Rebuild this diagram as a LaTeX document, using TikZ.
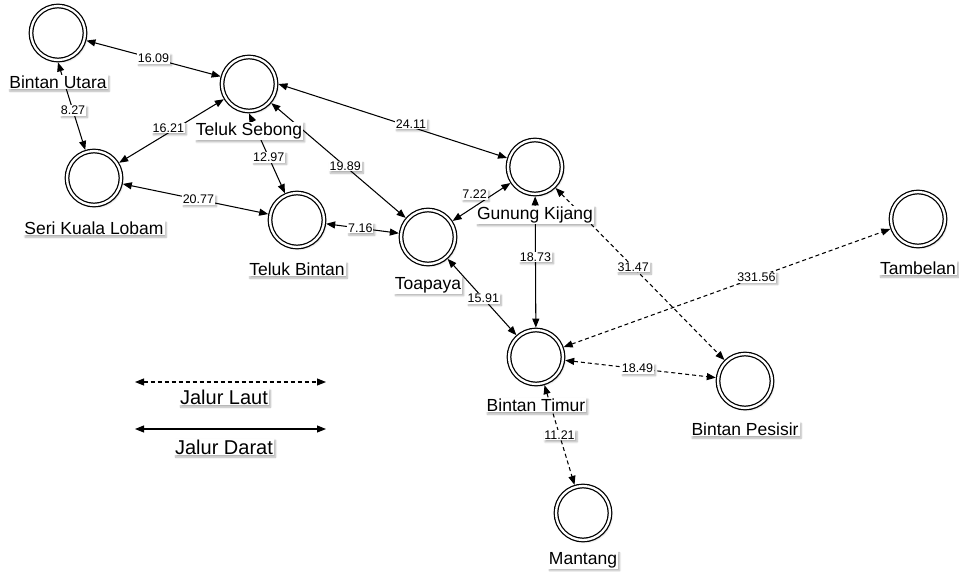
\documentclass[tikz,border=0pt]{standalone}
\usepackage{fontspec}
\setmainfont{Liberation Sans}
\usetikzlibrary{arrows.meta,shadows.blur}

\tikzset{
  bayang/.style={blur shadow={shadow xshift=1.6pt,shadow yshift=-1.8pt,shadow blur radius=1.8pt,shadow blur steps=6,shadow opacity=30}},
  kota/.style={circle, draw, double, double distance=2.3pt, line width=1.25pt, fill=white,
    minimum size=54pt, inner sep=0pt, outer sep=2.4pt, bayang},
  nama/.style={fill=white, inner sep=1pt, font=\fontsize{17.5}{19}\selectfont, bayang},
  jarak/.style={fill=white, inner sep=0.8pt, font=\fontsize{12.5}{14}\selectfont, bayang},
  darat/.style={line width=1.05pt, {Triangle[length=9pt,width=7pt]}-{Triangle[length=9pt,width=7pt]}},
  laut/.style={darat, dash pattern=on 4pt off 3pt},
}

\begin{document}
\begin{tikzpicture}[x=1pt,y=-1pt]
\useasboundingbox (0,0) rectangle (959,571);

% kota
\node[kota] (bu)  at (58,33)   {};
\node[kota] (ts)  at (249,84)  {};
\node[kota] (skl) at (94,178)  {};
\node[kota] (tb)  at (297,220) {};
\node[kota] (to)  at (428,237) {};
\node[kota] (gk)  at (535,167) {};
\node[kota] (bt)  at (536,357) {};
\node[kota] (bp)  at (745,381) {};
\node[kota] (ta)  at (918,219) {};
\node[kota] (ma)  at (583,513) {};

% jalur darat
\draw[darat] (bu) -- node[jarak,pos=.5] (j1) {16.09} (ts);
\draw[darat] (bu.south) -- node[jarak,pos=.55] (j2) {8.27} (skl);
\draw[darat] (ts) -- node[jarak,pos=.53,yshift=5pt] (j3) {16.21} (skl);
\draw[darat] (ts.south) -- node[jarak,pos=.55] (j4) {12.97} (tb);
\draw[darat] (ts.east) -- node[jarak,pos=.58,yshift=3pt] (j5) {24.11} (gk);
\draw[darat] (ts) -- node[jarak,pos=.55] (j6) {19.89} (to);
\draw[darat] (skl) -- node[jarak,pos=.52] (j7) {20.77} (tb);
\draw[darat] (tb) -- node[jarak,pos=.47] (j8) {7.16} (to);
\draw[darat] (to) -- node[jarak,pos=.38,yshift=12pt] (j9) {7.22} (gk);
\draw[darat] (gk) -- node[jarak,pos=.46] (j10) {18.73} (bt);
\draw[darat] (to) -- node[jarak,pos=.52] (j11) {15.91} (bt);

% jalur laut
\draw[laut] (gk) -- node[jarak,pos=.46] (j12) {31.47} (bp);
\draw[laut] (bt) -- node[jarak,pos=.59] (j13) {331.56} (ta);
\draw[laut] (bt) -- node[jarak,pos=.48] (j14) {18.49} (bp);
\draw[laut] (bt) -- node[jarak,pos=.5] (j15) {11.21} (ma);

% nama kota
\node[nama] (bu-n)  at ([yshift=-49pt]bu.center)  {Bintan Utara};
\node[nama] (ts-n)  at ([yshift=-47pt]ts.center)  {Teluk Sebong};
\node[nama] (skl-n) at ([yshift=-50pt]skl.center) {Seri Kuala Lobam};
\node[nama] (tb-n)  at ([yshift=-49pt]tb.center)  {Teluk Bintan};
\node[nama] (to-n)  at ([yshift=-48pt]to.center)  {Toapaya};
\node[nama] (gk-n)  at ([yshift=-48pt]gk.center)  {Gunung Kijang};
\node[nama] (bt-n)  at ([yshift=-48pt]bt.center)  {Bintan Timur};
\node[nama] (bp-n)  at ([yshift=-48pt]bp.center)  {Bintan Pesisir};
\node[nama] (ta-n)  at ([yshift=-49pt]ta.center)  {Tambelan};
\node[nama] (ma-n)  at ([yshift=-47pt]ma.center)  {Mantang};

% keterangan
\coordinate (laut1) at (135,382);
\coordinate (laut2) at (326,382);
\coordinate (darat1) at (135,429);
\coordinate (darat2) at (326,429);
\draw[laut] (laut1) -- (laut2);
\draw[darat] (darat1) -- (darat2);
\node[nama,font=\fontsize{20}{22}\selectfont] (ket-laut) at (224,397) {Jalur Laut};
\node[nama,font=\fontsize{20}{22}\selectfont] (ket-darat) at (224,447) {Jalur Darat};
\end{tikzpicture}
\end{document}
